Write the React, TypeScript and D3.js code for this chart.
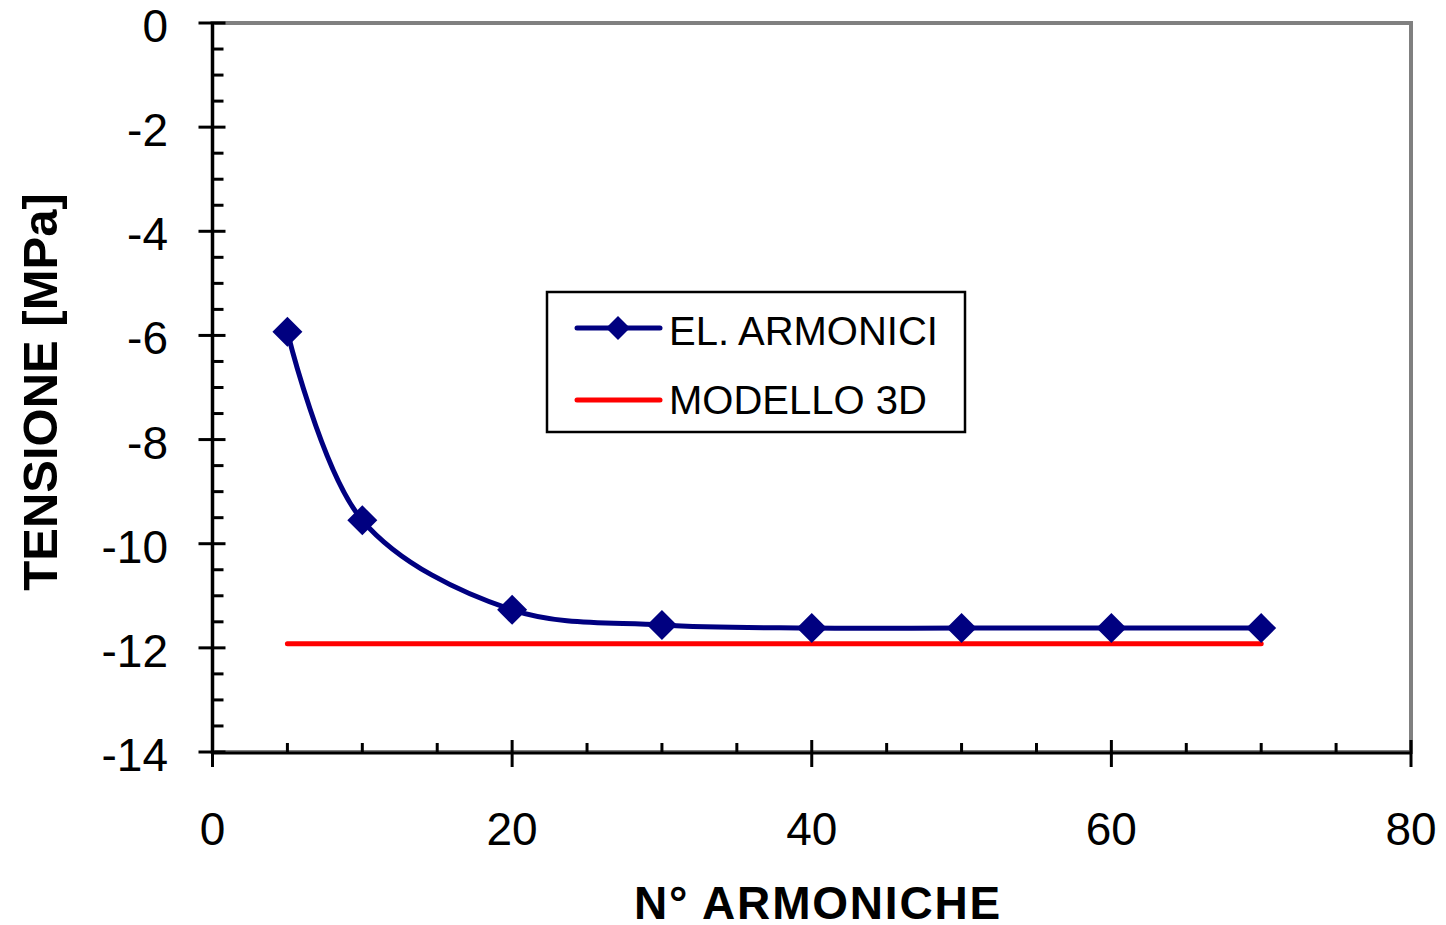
import React from "react";
import * as d3 from "d3";

const harmonics = [5, 10, 20, 30, 40, 50, 60, 70];
const elArmonici = [-5.93, -9.55, -11.27, -11.56, -11.62, -11.62, -11.62, -11.62];
const modello3D = [-11.92, -11.92];
const modello3DX = [5, 70];
const xTicks = [0, 20, 40, 60, 80];
const yTicks = [0, -2, -4, -6, -8, -10, -12, -14];
const seriesNames = ["EL. ARMONICI", "MODELLO 3D"];
const xTitle = "N° ARMONICHE";
const yTitle = "TENSIONE [MPa]";

export default function App() {
  const W = 1446, H = 925;
  const left = 212.5, right = 1411, top = 23, bottom = 752;
  const x = d3.scaleLinear().domain([0, 80]).range([left, right]);
  const y = d3.scaleLinear().domain([0, -14]).range([top, bottom]);
  const font = "Arial, 'Liberation Sans', Helvetica, sans-serif";
  const blue = "#000080";
  const red = "#FF0000";

  const line = d3
    .line<number>()
    .x((_, i) => x(harmonics[i]))
    .y((d) => y(d))
    .curve(d3.curveCatmullRom.alpha(0.5));
  const redLine = d3
    .line<number>()
    .x((_, i) => x(modello3DX[i]))
    .y((d) => y(d));

  const xMinor = d3.range(0, 81, 5).filter((v) => v % 20 !== 0);
  const yMinor = d3.range(0, -14.01, -0.5).filter((v) => Math.abs(v % 2) > 0.01);

  const diamond = (cx: number, cy: number, r: number) =>
    `M${cx},${cy - r}L${cx + r},${cy}L${cx},${cy + r}L${cx - r},${cy}Z`;

  const legX = 547, legY = 292, legW = 418, legH = 140;

  return (
    <svg width={W} height={H} style={{ position: "absolute", left: 0, top: 0 }}>
      <rect x={0} y={0} width={W} height={H} fill="#fff" />
      {/* plot border */}
      <rect x={left} y={top} width={right - left} height={bottom - top} fill="none" stroke="#808080" strokeWidth={4} />
      {/* axes */}
      <line x1={left} x2={right} y1={bottom + 1} y2={bottom + 1} stroke="#000" strokeWidth={3} />
      <line x1={left} x2={left} y1={top} y2={bottom + 1} stroke="#000" strokeWidth={3} />
      {/* y ticks */}
      {yTicks.map((t) => (
        <g key={"yt" + t}>
          <line x1={left - 14} x2={left + 13} y1={y(t)} y2={y(t)} stroke="#000" strokeWidth={3} />
          <text x={168} y={y(t) + 19} textAnchor="end" fontFamily={font} fontSize={46} fill="#000">
            {t}
          </text>
        </g>
      ))}
      {yMinor.map((t) => (
        <line key={"ym" + t} x1={left} x2={left + 11} y1={y(t)} y2={y(t)} stroke="#000" strokeWidth={3} />
      ))}
      {/* x ticks */}
      {xTicks.map((t) => (
        <g key={"xt" + t}>
          <line x1={x(t)} x2={x(t)} y1={bottom - 12} y2={bottom + 15} stroke="#000" strokeWidth={3} />
          <text x={x(t)} y={845} textAnchor="middle" fontFamily={font} fontSize={46} fill="#000">
            {t}
          </text>
        </g>
      ))}
      {xMinor.map((t) => (
        <line key={"xm" + t} x1={x(t)} x2={x(t)} y1={bottom - 9} y2={bottom} stroke="#000" strokeWidth={3} />
      ))}
      {/* series */}
      <path d={redLine(modello3D) || ""} fill="none" stroke={red} strokeWidth={5} strokeLinecap="round" />
      <path d={line(elArmonici) || ""} fill="none" stroke={blue} strokeWidth={5} />
      {elArmonici.map((v, i) => (
        <path key={"m" + i} d={diamond(x(harmonics[i]), y(v), 15)} fill={blue} />
      ))}
      {/* titles */}
      <text x={818} y={919} textAnchor="middle" fontFamily={font} fontWeight="bold" fontSize={46} letterSpacing={1.8} fill="#000">
        {xTitle}
      </text>
      <text
        transform={`translate(57,392) rotate(-90)`}
        textAnchor="middle"
        fontFamily={font}
        fontWeight="bold"
        fontSize={49}
        fill="#000"
      >
        {yTitle}
      </text>
      {/* legend */}
      <rect x={legX} y={legY} width={legW} height={legH} fill="#fff" stroke="#000" strokeWidth={2.5} />
      <line x1={577} x2={660} y1={328} y2={328} stroke={blue} strokeWidth={5} strokeLinecap="round" />
      <path d={diamond(618, 328, 12)} fill={blue} />
      <text x={669} y={345} fontFamily={font} fontSize={40} fill="#000">
        {seriesNames[0]}
      </text>
      <line x1={577} x2={660} y1={400} y2={400} stroke={red} strokeWidth={5} strokeLinecap="round" />
      <text x={669} y={414} fontFamily={font} fontSize={40} fill="#000">
        {seriesNames[1]}
      </text>
    </svg>
  );
}
